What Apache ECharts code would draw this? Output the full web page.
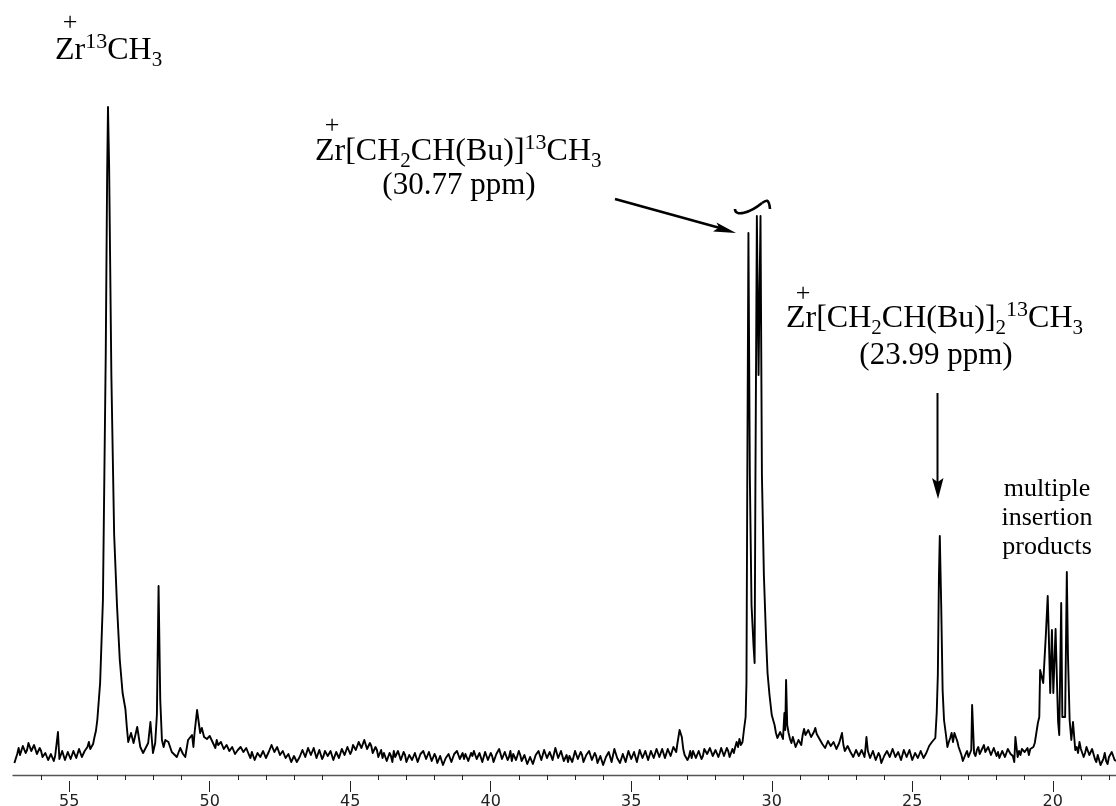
<!DOCTYPE html>
<html><head><meta charset="utf-8">
<style>html,body{margin:0;padding:0;background:#fff}#c{width:1116px;height:806px}</style>
<script src="https://cdn.jsdelivr.net/npm/echarts@6/dist/echarts.min.js"></script>
</head><body><div id="c"></div>
<script>
const ppm=[56.95,
56.9,56.85,56.8,56.75,56.7,56.65,56.6,56.55,56.5,56.45,56.4,56.35,56.3,56.25,56.2,56.15,56.1,56.05,56.0,55.95,
55.9,55.85,55.8,55.75,55.7,55.65,55.6,55.55,55.5,55.45,55.4,55.35,55.3,55.25,55.2,55.15,55.1,55.05,55.0,54.95,
54.9,54.85,54.8,54.75,54.7,54.65,54.6,54.55,54.5,54.45,54.4,54.35,54.3,54.25,54.2,54.15,54.1,54.05,54.0,
53.9,53.8,53.7,53.65,53.62,53.58,53.5,53.4,53.3,53.2,53.1,53.0,
52.95,52.9,52.8,52.71,52.58,52.47,52.37,52.19,52.11,52.02,
51.94,51.88,51.82,51.76,51.7,51.64,51.58,51.47,51.35,51.17,51.05,
50.95,50.87,50.77,50.63,50.58,50.54,50.45,50.34,50.28,
50.2,50.15,50.1,50.05,50.0,49.95,
49.9,49.85,49.8,49.75,49.7,49.65,49.6,49.55,49.5,49.45,49.4,49.35,49.3,49.25,49.2,49.15,49.1,49.05,49.0,48.95,
48.9,48.85,48.8,48.75,48.7,48.65,48.6,48.55,48.5,48.45,48.4,48.35,48.3,48.25,48.2,48.15,48.1,48.05,48.0,47.95,
47.9,47.85,47.8,47.75,47.7,47.65,47.6,47.55,47.5,47.45,47.4,47.35,47.3,47.25,47.2,47.15,47.1,47.05,47.0,46.95,
46.9,46.85,46.8,46.75,46.7,46.65,46.6,46.55,46.5,46.45,46.4,46.35,46.3,46.25,46.2,46.15,46.1,46.05,46.0,45.95,
45.9,45.85,45.8,45.75,45.7,45.65,45.6,45.55,45.5,45.45,45.4,45.35,45.3,45.25,45.2,45.15,45.1,45.05,45.0,44.95,
44.9,44.85,44.8,44.75,44.7,44.65,44.6,44.55,44.5,44.45,44.4,44.35,44.3,44.25,44.2,44.15,44.1,44.05,44.0,43.95,
43.9,43.85,43.8,43.75,43.7,43.65,43.6,43.55,43.5,43.45,43.4,43.35,43.3,43.25,43.2,43.15,43.1,43.05,43.0,42.95,
42.9,42.85,42.8,42.75,42.7,42.65,42.6,42.55,42.5,42.45,42.4,42.35,42.3,42.25,42.2,42.15,42.1,42.05,42.0,41.95,
41.9,41.85,41.8,41.75,41.7,41.65,41.6,41.55,41.5,41.45,41.4,41.35,41.3,41.25,41.2,41.15,41.1,41.05,41.0,40.95,
40.9,40.85,40.8,40.75,40.7,40.65,40.6,40.55,40.5,40.45,40.4,40.35,40.3,40.25,40.2,40.15,40.1,40.05,40.0,39.95,
39.9,39.85,39.8,39.75,39.7,39.65,39.6,39.55,39.5,39.45,39.4,39.35,39.3,39.25,39.2,39.15,39.1,39.05,39.0,38.95,
38.9,38.85,38.8,38.75,38.7,38.65,38.6,38.55,38.5,38.45,38.4,38.35,38.3,38.25,38.2,38.15,38.1,38.05,38.0,37.95,
37.9,37.85,37.8,37.75,37.7,37.65,37.6,37.55,37.5,37.45,37.4,37.35,37.3,37.25,37.2,37.15,37.1,37.05,37.0,36.95,
36.9,36.85,36.8,36.75,36.7,36.65,36.6,36.55,36.5,36.45,36.4,36.35,36.3,36.25,36.2,36.15,36.1,36.05,36.0,35.95,
35.9,35.85,35.8,35.75,35.7,35.65,35.6,35.55,35.5,35.45,35.4,35.35,35.3,35.25,35.2,35.15,35.1,35.05,35.0,34.95,
34.9,34.85,34.8,34.75,34.7,34.65,34.6,34.55,34.5,34.45,34.4,34.35,34.3,34.25,34.2,34.15,34.1,34.05,34.0,33.95,
33.9,33.85,33.8,33.75,33.7,33.65,33.6,33.55,33.5,33.45,33.4,33.36,33.32,33.28,33.2,33.15,33.1,33.05,33.0,32.95,
32.9,32.85,32.8,32.75,32.7,32.65,32.6,32.55,32.5,32.45,32.4,32.35,32.3,32.25,32.2,32.15,32.1,32.05,32.0,31.95,
31.9,31.85,31.8,31.75,31.7,31.65,31.6,31.55,31.5,31.45,31.4,31.35,31.3,31.25,31.2,31.15,31.1,31.04,
30.99,30.93,30.9,30.87,30.83,30.78,30.72,30.65,30.61,30.58,30.53,30.47,30.44,30.4,30.35,30.28,30.2,30.15,30.08,30.0,
29.9,29.85,29.8,29.75,29.7,29.65,29.6,29.58,29.55,29.52,29.49,29.45,29.4,29.35,29.3,29.25,29.2,29.15,29.1,29.05,29.0,28.95,
28.9,28.85,28.8,28.75,28.7,28.65,28.6,28.55,28.5,28.45,28.4,28.35,28.3,28.25,28.2,28.15,28.1,28.05,28.0,27.95,
27.9,27.85,27.8,27.75,27.7,27.65,27.6,27.55,27.5,27.45,27.4,27.35,27.3,27.25,27.2,27.15,27.1,27.05,27.0,26.95,
26.9,26.85,26.8,26.75,26.7,26.67,26.63,26.58,26.5,26.45,26.4,26.35,26.3,26.25,26.2,26.15,26.1,26.05,26.0,25.95,
25.9,25.85,25.8,25.75,25.7,25.65,25.6,25.55,25.5,25.45,25.4,25.35,25.3,25.25,25.2,25.15,25.1,25.05,25.0,24.95,
24.9,24.85,24.8,24.75,24.7,24.65,24.6,24.55,24.5,24.45,24.4,24.35,24.3,24.25,24.18,24.13,24.09,24.05,24.02,23.97,23.92,23.87,
23.8,23.75,23.7,23.65,23.6,23.55,23.5,23.45,23.4,23.35,23.3,23.25,23.2,23.15,23.1,23.05,
23.0,22.93,22.9,22.87,22.8,22.75,22.7,22.65,22.6,22.55,22.5,22.45,22.4,22.35,22.3,22.25,22.2,22.15,22.1,22.05,22.0,21.95,
21.9,21.85,21.8,21.75,21.7,21.65,21.6,21.55,21.5,21.42,21.37,21.33,21.25,21.2,21.15,21.1,21.05,21.0,20.95,
20.9,20.85,20.8,20.69,20.64,20.53,20.48,20.45,20.39,20.34,20.25,20.18,20.14,20.09,20.03,19.98,19.9,19.84,19.81,19.77,19.7,19.66,19.56,19.5,19.46,19.4,19.34,19.28,
19.2,19.15,19.1,19.05,19.0,18.95,18.9,18.85,18.8,18.75,18.7,18.65,18.6,18.55,18.5,18.45,18.4,18.35,18.3,18.25,18.2,18.15,18.1,18.05,18.0,17.95,17.9,17.85,17.8,17.75];
const intensity=[12,
14,21,27,20,22,29,29,22,25,32,31,24,24,30,28,21,21,27,24,18,
17,22,22,15,15,21,20,14,19,17,43,16,18,24,22,15,17,23,23,16,
17,24,23,17,19,26,25,18,18,24,24,28,33,26,24,31,38,44,55,
92,175,420,600,668,610,400,240,170,115,82,66,
48,33,42,32,48,28,22,32,53,22,
32,60,189,75,35,28,35,33,23,18,27,21,18,
35,40,28,42,65,42,47,38,
40,36,34,39,37,33,
31,27,35,30,28,33,31,26,25,30,29,24,23,28,27,21,19,25,24,28,
28,23,22,27,26,20,17,23,21,15,16,22,24,18,19,24,22,17,18,23,
25,30,29,23,22,28,27,20,18,24,23,17,16,21,20,13,14,19,18,13,
13,18,19,25,24,18,20,27,26,20,22,27,25,17,18,25,23,16,19,24,
24,19,18,24,22,15,17,23,23,17,19,26,26,20,21,28,27,21,24,30,
30,25,26,33,33,27,28,35,34,26,27,32,29,22,23,28,25,18,20,25,
17,22,21,14,15,22,19,13,24,18,18,24,22,15,16,23,20,13,14,20,
20,15,16,22,21,13,14,21,19,24,23,16,17,23,21,14,15,21,18,12,
13,19,17,10,11,17,15,21,20,13,14,21,19,24,22,16,17,22,16,21,
21,14,15,22,19,24,23,16,17,22,20,13,14,23,22,15,16,22,19,13,
15,21,20,26,24,16,17,23,21,15,18,24,14,21,22,15,17,24,20,14,
15,20,18,11,12,18,16,11,13,20,19,24,22,15,16,25,24,17,18,23,
21,15,17,27,26,17,18,24,22,14,15,20,13,19,19,13,15,24,22,16,
17,23,20,13,14,20,18,24,22,15,16,22,19,12,13,19,17,10,11,18,
16,23,21,13,14,26,25,17,18,12,13,21,20,13,15,24,23,16,17,23,
21,13,14,25,24,17,18,24,22,15,16,24,23,17,19,26,25,18,20,26,
24,17,18,26,25,19,20,28,27,23,31,38,45,38,26,20,22,15,18,24,
17,24,23,17,18,24,22,16,19,26,27,21,21,27,26,19,20,25,24,18,
22,27,25,19,21,27,24,18,20,26,22,28,33,28,36,30,33,45,
58,92,300,542,300,170,130,112,300,559,400,470,559,300,200,135,102,80,60,50,
42,37,38,43,41,36,37,62,45,95,50,42,36,32,38,33,28,26,35,36,30,40,
46,40,38,45,44,38,37,43,47,41,42,36,37,31,31,27,28,34,35,29,
27,33,33,26,26,32,34,42,30,24,23,29,29,23,24,18,18,25,24,19,
21,25,23,18,25,38,24,17,19,24,22,15,16,22,19,12,13,19,17,24,
25,18,18,26,28,18,16,23,24,15,15,25,26,18,19,25,24,15,15,22,
24,17,17,24,25,17,16,22,23,29,28,33,32,37,62,100,200,239,170,85,55,40,
28,33,37,42,33,42,38,34,28,24,20,14,15,21,24,18,
20,25,70,22,19,25,28,21,20,27,30,23,22,28,26,20,21,27,25,19,23,17,
18,24,24,18,20,26,28,21,19,13,38,18,24,20,26,28,23,22,27,
20,26,28,32,52,58,105,107,92,138,179,138,82,145,82,146,82,53,40,172,58,58,203,120,55,35,53,25,
28,22,33,26,24,18,22,28,27,20,20,26,24,16,13,20,18,10,8,16,22,14,11,18,17,23,24,15,14,18];
const minorTicks=[18,19,21,22,23,24,26,27,28,29,31,32,33,34,36,37,38,39,41,42,43,44,46,47,48,49,51,52,53,54,56];
const majorTicks=[20,25,30,35,40,45,50,55];
const tickLabels=[20,25,30,35,40,45,50,55];
const serif='"Liberation Serif"';
const base={fontFamily:serif,fontSize:32,lineHeight:40,fill:'#000'};
const up={fontFamily:serif,fontSize:22,lineHeight:20,verticalAlign:'top',fill:'#000'};
const dn={fontFamily:serif,fontSize:21,lineHeight:20,verticalAlign:'bottom',fill:'#000'};
const rich={b:base,u:up,d:dn};
function chem(x,y,text){return {type:'text',x,y,silent:true,style:{text,rich,align:'left',verticalAlign:'top',fill:'#000'}};}
function plain(x,y,text,size,lh){return {type:'text',x,y,silent:true,style:{text,font:size+'px "Liberation Serif"',lineHeight:lh,align:'center',verticalAlign:'top',fill:'#000'}};}
const ink={stroke:'#000',fill:null};
const xBase={type:'value',min:17.75,max:57,inverse:true,position:'bottom',splitLine:{show:false}};
const chart=echarts.init(document.getElementById('c'),null,{renderer:'canvas'});
chart.setOption({
  animation:false,backgroundColor:'#fff',
  grid:{left:13,right:0,top:0,bottom:31,containLabel:false,outerBoundsMode:'none'},
  xAxis:[
    {...xBase,axisLine:{show:true,onZero:false,lineStyle:{color:'#555',width:1.3}},axisTick:{show:false},axisLabel:{show:false}},
    {...xBase,offset:6,axisLine:{show:false},axisTick:{show:true,length:5,customValues:minorTicks,lineStyle:{color:'#222',width:1}},axisLabel:{show:false}},
    {...xBase,offset:6,axisLine:{show:false},axisTick:{show:true,length:11,customValues:majorTicks,lineStyle:{color:'#222',width:1}},
      axisLabel:{show:true,customValues:tickLabels,margin:13,fontFamily:'DejaVu Sans',fontSize:16,color:'#222'}}
  ],
  yAxis:{type:'value',min:0,max:775,show:false},
  series:[{type:'line',xAxisIndex:0,showSymbol:false,smooth:false,data:ppm.map((p,i)=>[p,intensity[i]]),lineStyle:{color:'#000',width:1.9,join:'round'}}],
  graphic:[
    plain(70,8,'+',26,30),
    chem(55,31,'{b|Zr}{u|13}{b|CH}{d|3}'),
    plain(332,111,'+',26,30),
    chem(315,132,'{b|Zr[CH}{d|2}{b|CH(Bu)]}{u|13}{b|CH}{d|3}'),
    plain(459,168,'(30.77 ppm)',31,36),
    plain(803,279,'+',26,30),
    chem(786,299,'{b|Zr[CH}{d|2}{b|CH(Bu)]}{d|2}{u|13}{b|CH}{d|3}'),
    plain(936,338,'(23.99 ppm)',31,36),
    {type:'text',x:1047,y:475,silent:true,style:{text:'multiple\ninsertion\nproducts',font:'26px "Liberation Serif"',lineHeight:29,align:'center',verticalAlign:'top',fill:'#000'}},
    {type:'line',silent:true,shape:{x1:615,y1:199,x2:720,y2:228},style:{...ink,lineWidth:2.6}},
    {type:'polygon',silent:true,shape:{points:[[736,233],[716.5,222.5],[719,227.5],[713,231.5]]},style:{fill:'#000'}},
    {type:'line',silent:true,shape:{x1:937.5,y1:393,x2:937.5,y2:482},style:{...ink,lineWidth:2}},
    {type:'polygon',silent:true,shape:{points:[[938,499],[932,478],[937.7,482],[943.5,478]]},style:{fill:'#000'}},
    {type:'bezierCurve',silent:true,shape:{x1:735,y1:209,cpx1:735,cpy1:217,cpx2:750,cpy2:213,x2:762,y2:203},style:{...ink,lineWidth:2.6}},
    {type:'bezierCurve',silent:true,shape:{x1:762,y1:203,cpx1:766,cpy1:200,cpx2:769,cpy2:198,x2:770,y2:209},style:{...ink,lineWidth:2.6}}
  ]
});
</script></body></html>
